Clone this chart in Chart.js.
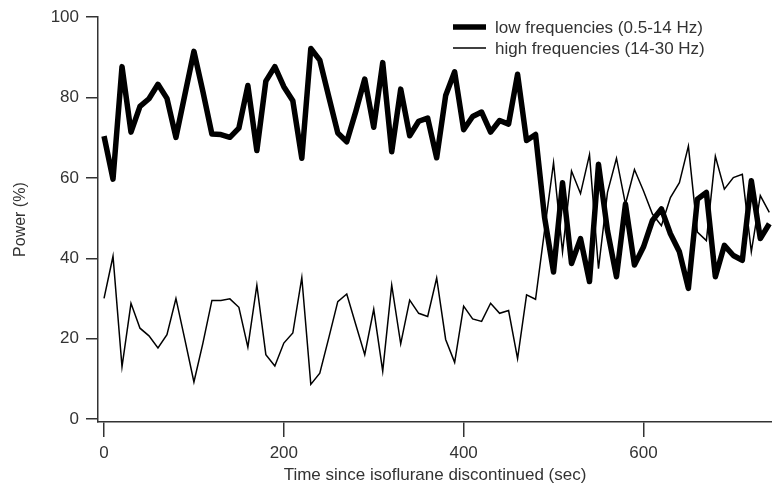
<!DOCTYPE html>
<html>
<head>
<meta charset="utf-8">
<script src="https://cdn.jsdelivr.net/npm/chart.js@4"></script>
<style>
  html, body { margin: 0; padding: 0; background: #fff; }
  #wrap { width: 772px; height: 495px; }
</style>
</head>
<body>
<div id="wrap"><canvas id="myChart"></canvas></div>
<script>
const times = [0, 10, 20, 30, 40, 50, 60, 70, 80, 90, 100, 110, 120, 130, 140, 150, 160, 170, 180, 190,
  200, 210, 220, 230, 240, 250, 260, 270, 280, 290, 300, 310, 320, 330, 340, 350, 360, 370, 380, 390,
  400, 410, 420, 430, 440, 450, 460, 470, 480, 490, 500, 510, 520, 530, 540, 550, 560, 570, 580, 590,
  600, 610, 620, 630, 640, 650, 660, 670, 680, 690, 700, 710, 720, 730, 740];

const lowFreq = [70.4, 59.7, 87.7, 71.4, 77.8, 79.7, 83.3, 79.8, 70.1, 80.8, 91.5, 81.5, 70.9, 70.8, 70.1, 72.4, 83, 66.8, 84.1, 87.7,
  82.7, 79.2, 64.9, 92.2, 89.3, 80.2, 71.2, 69, 76.5, 84.6, 72.6, 88.7, 66.5, 82.1, 70.5, 74.1, 74.9, 65, 80.5, 86.4,
  72, 75.3, 76.4, 71.4, 74.3, 73.4, 85.8, 69.3, 70.8, 50.2, 36.6, 58.8, 38.7, 44.9, 34.2, 63.4, 46.9, 35.4, 53.5, 38.3,
  42.8, 49.4, 52.3, 46.1, 41.6, 32.5, 54.7, 56.4, 35.4, 43.2, 40.7, 39.5, 59.3, 44.9, 48.6];

const highFreq = [30, 40.5, 13, 28.8, 22.6, 20.7, 17.7, 21, 30, 19.7, 9.2, 18.9, 29.5, 29.5, 29.9, 27.8, 17.9, 33.3, 16, 13.2,
  18.9, 21.4, 35.2, 8.6, 11.4, 20.2, 29.2, 31.1, 23.5, 16, 27.3, 11.9, 33.3, 18.7, 29.6, 26.3, 25.5, 35.1, 19.8, 14.1,
  28.1, 24.9, 24.3, 28.8, 26.3, 27, 15, 30.9, 29.8, 46.9, 63.8, 41.6, 61.7, 56.1, 65.8, 37.4, 56.4, 64.9, 53.5, 62.1,
  56.8, 51, 48.1, 55.1, 58.8, 67.9, 46.5, 44.4, 65.4, 57.2, 60.1, 60.9, 41.6, 55.6, 51.4];

const xTicks = [0, 200, 400, 600];
const yTicks = [0, 20, 40, 60, 80, 100];

const textColor = '#333';
const axisColor = '#333';
const fontFamily = '"Liberation Sans", Arial, sans-serif';

// legend drawn by hand: short line sample + label, top right
const legendLines = {
  id: 'legendLines',
  afterDraw(chart) {
    const ctx = chart.ctx;
    chart.data.datasets.forEach((ds, i) => {
      const y = 27 + i * 21;
      ctx.save();
      ctx.strokeStyle = ds.borderColor;
      ctx.lineWidth = ds.borderWidth;
      ctx.beginPath();
      ctx.moveTo(453, y);
      ctx.lineTo(486, y);
      ctx.stroke();
      ctx.fillStyle = textColor;
      ctx.font = '17px ' + fontFamily;
      ctx.textBaseline = 'middle';
      ctx.fillText(ds.label, 495, y + 1);
      ctx.restore();
    });
  }
};

const ctx = document.getElementById('myChart').getContext('2d');

new Chart(ctx, {
  type: 'line',
  data: {
    datasets: [
      {
        label: 'low frequencies (0.5-14 Hz)',
        data: times.map((t, i) => ({ x: t, y: lowFreq[i] })),
        borderColor: '#000',
        borderWidth: 5.5,
        borderJoinStyle: 'round',
        pointRadius: 0,
        tension: 0,
        fill: false
      },
      {
        label: 'high frequencies (14-30 Hz)',
        data: times.map((t, i) => ({ x: t, y: highFreq[i] })),
        borderColor: '#000',
        borderWidth: 1.5,
        pointRadius: 0,
        tension: 0,
        fill: false
      }
    ]
  },
  options: {
    responsive: true,
    maintainAspectRatio: false,
    animation: false,
    layout: { padding: { top: 15, right: 0, bottom: 0, left: 0 } },
    plugins: {
      legend: { display: false },
      tooltip: { enabled: false }
    },
    scales: {
      x: {
        type: 'linear',
        min: -6.7,
        max: 743,
        afterBuildTicks: s => { s.ticks = xTicks.map(v => ({ value: v })); },
        afterFit: s => { s.height = 73; },
        grid: { drawOnChartArea: false, drawTicks: true, tickLength: 15, color: axisColor, lineWidth: 1.5 },
        border: { display: true, color: axisColor, width: 1.5 },
        ticks: { color: textColor, font: { family: fontFamily, size: 17 }, padding: 6, maxRotation: 0 },
        title: {
          display: true,
          text: 'Time since isoflurane discontinued (sec)',
          color: textColor,
          font: { family: fontFamily, size: 17 },
          padding: { top: 0, bottom: 9 }
        }
      },
      y: {
        min: -0.75,
        max: 100,
        afterBuildTicks: s => { s.ticks = yTicks.map(v => ({ value: v })); },
        afterFit: s => { s.width = 98; },
        grid: { drawOnChartArea: false, drawTicks: true, tickLength: 12, color: axisColor, lineWidth: 1.5 },
        border: { display: true, color: axisColor, width: 1.5 },
        ticks: { color: textColor, font: { family: fontFamily, size: 17 }, padding: 7 },
        title: {
          display: true,
          text: 'Power (%)',
          color: textColor,
          font: { family: fontFamily, size: 16 },
          padding: { top: 11, bottom: 0 }
        }
      }
    }
  },
  plugins: [legendLines]
});
</script>
</body>
</html>
